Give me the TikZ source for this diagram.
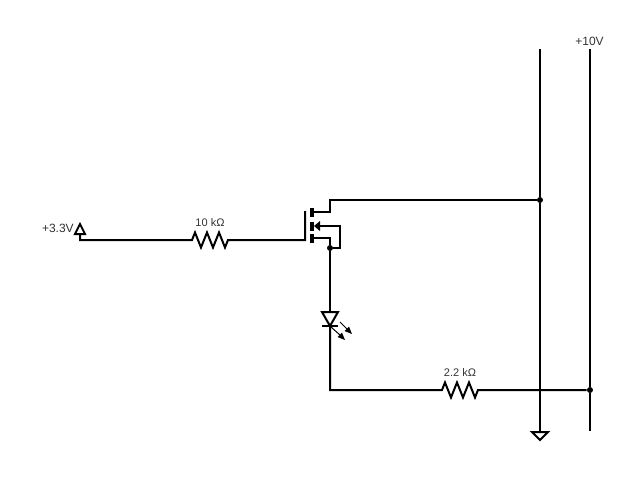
\documentclass[tikz,border=0pt]{standalone}
\usepackage{fontspec}
\setmainfont{Liberation Sans}
\definecolor{lbl}{HTML}{333333}
\tikzset{
  wire/.style={draw=black,line width=1.5pt,line join=miter},
  lab/.style={text=lbl,font=\fontsize{8.25pt}{10pt}\selectfont,inner sep=0pt},
  labbig/.style={text=lbl,font=\fontsize{9pt}{11pt}\selectfont,inner sep=0pt},
  dot/.style={circle,fill=black,inner sep=0pt,minimum size=4.5pt},
}
\begin{document}
\begin{tikzpicture}[x=0.75pt,y=-0.75pt]
\useasboundingbox (0,0) rectangle (640,480);
% terminals
\coordinate (vin) at (80,234);
\coordinate (vinb) at (80,240);
\coordinate (r1a) at (192,240);
\coordinate (r1b) at (228,240);
\coordinate (gate) at (305,240);
\coordinate (gatet) at (305,211);
\coordinate (dr) at (312,212);
\coordinate (so) at (312,238);
\coordinate (bo) at (320,226);
\node[dot] (ds) at (330,248) {};
\node[dot] (j1) at (540,200) {};
\node[dot] (j2) at (590,390) {};
\coordinate (railgt) at (540,49);
\coordinate (railgb) at (540,432);
\coordinate (railt) at (590,49);
\coordinate (railb) at (590,431);
\coordinate (ledt) at (330,312);
\coordinate (ledb) at (330,326);
\coordinate (corner) at (330,390);
\coordinate (r2a) at (442,390);
\coordinate (r2b) at (478,390);
% labels
\node[labbig,anchor=east] (l33) at (74,228.5) {+3.3V};
\node[lab] (l10k) at (210,222.5) {10 k\char"03A9};
\node[lab] (l22k) at (460,372.5) {2.2 k\char"03A9};
\node[labbig] (l10v) at (589.5,41) {+10V};
% gate net, from the input terminal
\draw[wire] (vin) -- (vinb) -- (r1a) -- ++(3,-7.5) -- ++(6,15) -- ++(6,-15) -- ++(6,15) -- ++(6,-15) -- ++(6,15) -- (r1b) -- (gate) -- (gatet);
\draw[wire,fill=white] (75,234) -- (85,234) -- (80,224) -- cycle;
% MOSFET channel
\draw[draw=black,line width=3pt] (312,207.5) -- (312,216.5);
\draw[draw=black,line width=3pt] (312,221.5) -- (312,230.5);
\draw[draw=black,line width=3pt] (312,234) -- (312,243);
\draw[wire] (dr) -- (330,212) -- (330,200) -- (j1);
\draw[wire] (so) -- (330,238) -- (ds);
\draw[wire] (bo) -- (340,226) -- (340,248) -- (ds);
\fill[black] (314,226) -- (320,221) -- (320,231) -- cycle;
% rails
\draw[wire] (railgt) -- (j1) -- (railgb);
\draw[wire] (railt) -- (j2) -- (railb);
\draw[wire,fill=white] (532,432) -- (548,432) -- (540,440) -- cycle;
% LED branch
\draw[wire] (ds) -- (ledt);
\draw[wire] (ledb) -- (corner) -- (r2a) -- ++(3,-7.5) -- ++(6,15) -- ++(6,-15) -- ++(6,15) -- ++(6,-15) -- ++(6,15) -- (r2b) -- (j2);
\draw[wire,fill=white] (322,312) -- (338,312) -- (ledb) -- cycle;
\draw[wire] (322,326) -- (338,326);
\draw[draw=black,line width=0.75pt] (340,322) -- (347,329);
\fill[black] (352,334) -- (344.5,331) -- (349,326.5) -- cycle;
\draw[draw=black,line width=0.75pt] (331,327) -- (340,335);
\fill[black] (345,340) -- (337.5,337) -- (342,332.5) -- cycle;
\end{tikzpicture}
\end{document}
